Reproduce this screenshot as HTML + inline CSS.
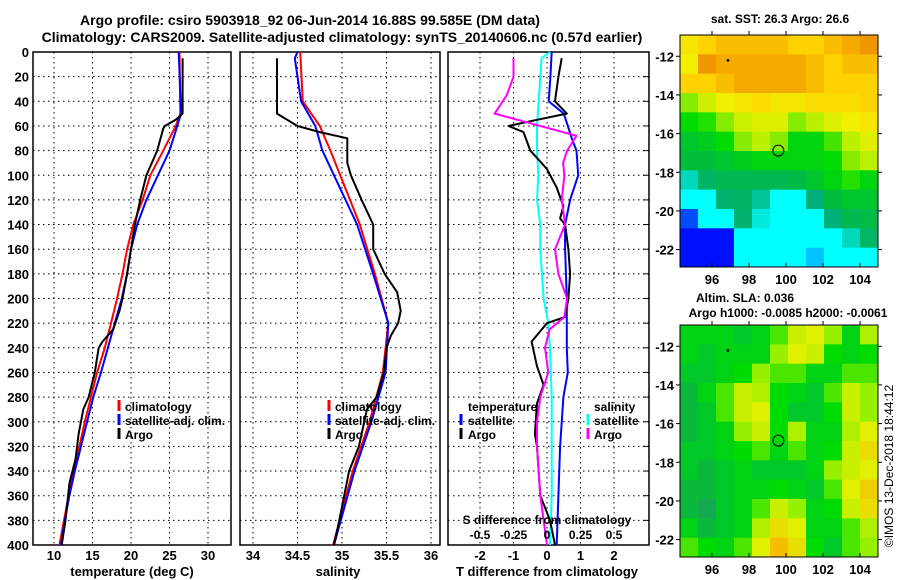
<!DOCTYPE html>
<html><head><meta charset="utf-8"><style>
html,body{margin:0;padding:0;background:#fff;}
svg{display:block;font-family:"Liberation Sans",sans-serif;font-weight:bold;}
</style></head><body>
<svg id="fig" width="900" height="580" viewBox="0 0 900 580" xmlns="http://www.w3.org/2000/svg">
<text x="310" y="25" font-size="14" text-anchor="middle">Argo profile: csiro 5903918_92 06-Jun-2014 16.88S 99.585E (DM data)</text>
<text x="342" y="42" font-size="14" text-anchor="middle">Climatology: CARS2009. Satellite-adjusted climatology: synTS_20140606.nc (0.57d earlier)</text>
<g id="g"></g>
<text x="780" y="23" font-size="12" text-anchor="middle">sat. SST: 26.3 Argo: 26.6</text>
<text x="745" y="302" font-size="12" text-anchor="middle">Altim. SLA: 0.036</text>
<text x="788" y="317" font-size="12" text-anchor="middle">Argo h1000: -0.0085 h2000: -0.0061</text>
<text transform="translate(893,466) rotate(-90)" font-size="12" font-weight="normal" text-anchor="middle">©IMOS 13-Dec-2018 18:44:12</text>
</svg>
<script>
// ---- data ----
const depthTicks=[0,20,40,60,80,100,120,140,160,180,200,220,240,260,280,300,320,340,360,380,400];
const tTicks=[10,15,20,25,30];
const sTicks=[34,34.5,35,35.5,36];
const dTTicks=[-2,-1,0,1,2];
const dSTicks=[-0.5,-0.25,0,0.25,0.5];
const dSTickLabels=["-0.5","-0.25","0","0.25","0.5"];
const climTdepth=[0,50,60,80,100,120,140,160,180,200,220,240,260,280,300,320,340,360,380,400];
const climT=[26.3,26.4,25.8,24.2,22.5,21.5,20.3,19.5,18.9,18.2,17.4,16.6,15.6,14.8,14.0,13.3,12.6,11.9,11.3,10.7];
const satTdepth=[0,50,60,70,80,100,120,140,160,180,200,220,240,260,280,300,320,340,360,380,400];
const satT=[26.2,26.5,26.0,25.5,25.0,23.5,22.0,20.8,20.0,19.5,18.8,17.9,17.0,16.1,15.1,14.3,13.5,12.7,12.0,11.4,10.9];
const argoTdepth=[5,50,55,60,62,80,100,120,140,160,180,200,210,225,235,240,260,280,290,310,330,350,380,400];
const argoT=[26.7,26.7,25.8,24.4,24.2,23.4,22.0,21.2,20.5,20.0,19.5,18.9,18.5,17.7,16.3,15.8,15.3,14.5,13.8,13.2,12.8,12.0,11.5,11.0];
const climSdepth=[0,40,60,80,100,140,180,220,260,300,340,400];
const climS=[34.53,34.56,34.75,34.87,34.98,35.2,35.37,35.52,35.46,35.31,35.12,34.9];
const satSdepth=[0,5,40,60,80,100,140,180,220,260,300,340,400];
const satS=[34.5,34.47,34.54,34.7,34.78,34.91,35.17,35.35,35.52,35.49,35.33,35.14,34.91];
const argoSdepth=[5,50,60,65,70,90,100,120,140,160,180,195,210,220,230,240,260,280,290,320,340,380,400];
const argoS=[34.27,34.27,34.5,34.75,35.06,35.06,35.1,35.22,35.35,35.35,35.48,35.62,35.66,35.63,35.55,35.5,35.47,35.39,35.28,35.19,35.08,34.97,34.91];
const dTsatDepth=[0,20,40,50,70,80,100,120,140,160,200,240,260,280,320,360,400];
const dTsat=[0.14,0.1,0.05,0.5,0.74,0.88,0.93,0.69,0.54,0.54,0.59,0.59,0.62,0.49,0.39,0.34,0.29];
const dTargoDepth=[5,20,40,50,55,60,65,80,95,110,125,135,140,160,180,200,215,220,235,255,270,285,310,320,360,380,400];
const dTargo=[0.44,0.34,0.24,0.59,-0.3,-1.15,-0.7,-0.5,0,0.29,0.49,0.39,0.54,0.64,0.69,0.64,0.54,0,-0.46,-0.3,-0.1,-0.3,-0.36,-0.3,-0.2,0.09,0.24];
const dSsatDepth=[0,5,20,60,80,100,120,140,160,200,220,240,280,320,360,400];
const dSsat=[0.022,-0.04,-0.05,-0.075,-0.075,-0.065,-0.075,-0.05,-0.05,-0.025,0.01,0.022,0.035,0.035,0.035,0.022];
const dSargoDepth=[5,20,35,50,55,68,80,90,100,120,140,160,180,200,215,225,240,260,280,300,320,360,400];
const dSargo=[-0.25,-0.25,-0.3,-0.39,-0.22,0.22,0.15,0.12,0.13,0.11,0.135,0.06,0.085,0.15,0.13,0.02,-0.015,0.01,-0.05,-0.075,-0.075,-0.05,0.0];
const lonTicks=[96,98,100,102,104];
const latTicks=[-12,-14,-16,-18,-20,-22];
const sstGrid=[
[26.6,26.8,26.9,26.9,26.9,26.9,26.8,26.8,26.9,27.0,27.1],
[26.5,27.1,27.0,27.0,27.0,27.0,27.0,26.9,26.8,26.9,26.9],
[26.8,26.8,26.9,27.0,27.0,27.0,27.0,26.9,26.8,26.8,26.8],
[26.0,26.3,26.5,26.6,26.7,26.6,26.6,26.7,26.7,26.7,26.8],
[25.6,25.7,26.0,26.3,26.4,26.4,26.0,26.2,26.4,26.5,26.6],
[25.3,25.4,25.6,26.0,26.2,26.0,25.5,25.5,25.8,26.2,26.4],
[25.2,25.2,25.3,25.4,25.5,25.5,25.5,25.5,25.6,26.0,26.2],
[24.4,24.8,25.0,25.0,25.0,25.0,25.1,25.3,25.5,25.7,25.5],
[24.0,24.2,24.7,24.8,24.5,24.1,24.1,24.6,25.2,25.3,25.3],
[23.4,24.0,24.1,24.7,24.3,24.0,24.0,24.1,24.6,25.0,25.1],
[23.2,23.2,23.3,24.0,24.0,24.0,24.0,24.0,24.1,24.4,24.8],
[23.2,23.2,23.3,24.0,24.0,24.0,24.0,23.6,24.0,24.0,24.2]];
const slaGrid=[
[0,0,0,-0.01,0,0.02,0.05,0.06,0.03,0,0.04],
[0,-0.01,0,0,0,0.03,0.06,0.05,0.01,0,0.01],
[-0.01,-0.01,0,0.01,0.03,0.02,0.02,0,0,0.02,0.02],
[-0.02,0,0.02,0.05,0.04,0.01,0,-0.01,0.02,0.05,0.03],
[-0.02,-0.01,0.02,0.05,0.06,0.01,-0.01,-0.01,0.01,0.05,0.03],
[-0.02,-0.01,0,0.03,0.05,0.01,0.04,0,0,0.04,0.06],
[-0.01,-0.01,0,0.01,0.02,0,0.02,0,0.01,0.05,0.07],
[-0.01,-0.02,-0.01,0,-0.01,-0.01,-0.01,0,0.03,0.05,0.06],
[-0.02,-0.02,-0.01,0,0,0.01,0,-0.01,0.02,0.06,0.08],
[-0.02,-0.03,-0.01,0,0.02,0.05,0.03,0,0.01,0.05,0.07],
[0,-0.02,-0.01,0,0.04,0.07,0.06,0,0,0.02,0.04],
[0.02,0.01,0,0.02,0.06,0.09,0.07,0.01,-0.01,0.02,0.03]];
const argoLon=99.585, argoLat=-16.88;

// ---- drawing ----
const NS="http://www.w3.org/2000/svg";
const G=document.getElementById('g');
function mk(tag,attrs,parent){const e=document.createElementNS(NS,tag);for(const k in attrs)e.setAttribute(k,attrs[k]);(parent||G).appendChild(e);return e;}
const Y0=52,Y1=545;
function yD(d){return Y0+(d/400)*(Y1-Y0);}
function lin(d0,d1,r0,r1){return v=>r0+(v-d0)/(d1-d0)*(r1-r0);}
const xT=lin(10,30,54,208);
const xS=lin(34,36,253,431);
const xDT=lin(0,1,547,580.5);
const xDS=lin(0,0.25,547,580.5);

function panel(x0,x1,name,xs,xticks,xlabels,labelY){
  for(const d of depthTicks){ if(d===0||d===400)continue;
    const l=mk('line',{x1:x0,x2:x1,y1:yD(d),y2:yD(d),stroke:'#000','stroke-width':1,'stroke-dasharray':'1.5,3.5'});
    }
  xticks.forEach((t,i)=>{const x=xs(t);
    const l=mk('line',{x1:x,x2:x,y1:Y0,y2:Y1,stroke:'#000','stroke-width':1,'stroke-dasharray':'1.5,3.5'});
    
    if(xlabels){const tx=mk('text',{x:x,y:labelY,'font-size':13,'text-anchor':'middle'});tx.textContent=xlabels[i];
    }
  });
  const r=mk('rect',{x:x0,y:Y0,width:x1-x0,height:Y1-Y0,fill:'none',stroke:'#000','stroke-width':1.5});
  
}
function series(depths,vals,xs,color,name,w){
  const pts=depths.map((d,i)=>xs(vals[i]).toFixed(1)+','+yD(d).toFixed(1)).join(' ');
  const p=mk('polyline',{points:pts,fill:'none',stroke:color,'stroke-width':w||2,'stroke-linejoin':'round'});
  
}
function text(x,y,s,name,size,anchor){const t=mk('text',{x:x,y:y,'font-size':size||12,'text-anchor':anchor||'start'});t.textContent=s;
  return t;}
function legMark(x,y,color,name){const l=mk('line',{x1:x,x2:x,y1:y-10,y2:y+1,stroke:color,'stroke-width':3});
  }

// panel 1 temperature
panel(33,231,'temperature-panel',xT,tTicks,tTicks.map(String),560);
depthTicks.forEach(d=>text(29,yD(d)+5,String(d),'depth-tick-label',13,'end'));
series(climTdepth,climT,xT,'#ff0000','climatology-temperature-line');
series(satTdepth,satT,xT,'#0000ff','satellite-temperature-line');
series(argoTdepth,argoT,xT,'#000','argo-temperature-line');
text(132,576,'temperature (deg C)','temperature-axis-title',13,'middle');
legMark(119,410,'#ff0000','legend-climatology-marker');text(125,411,'climatology','legend-climatology',12);
legMark(119,424,'#0000ff','legend-satellite-marker');text(125,425,'satellite-adj. clim.','legend-satellite',12);
legMark(119,438,'#000','legend-argo-marker');text(125,439,'Argo','legend-argo',12);

// panel 2 salinity
panel(240,440,'salinity-panel',xS,sTicks,sTicks.map(String),560);
series(climSdepth,climS,xS,'#ff0000','climatology-salinity-line');
series(satSdepth,satS,xS,'#0000ff','satellite-salinity-line');
series(argoSdepth,argoS,xS,'#000','argo-salinity-line');
text(338,576,'salinity','salinity-axis-title',13,'middle');
legMark(329,410,'#ff0000','legend2-climatology-marker');text(335,411,'climatology','legend2-climatology',12);
legMark(329,424,'#0000ff','legend2-satellite-marker');text(335,425,'satellite-adj. clim.','legend2-satellite',12);
legMark(329,438,'#000','legend2-argo-marker');text(335,439,'Argo','legend2-argo',12);

// panel 3 differences
panel(448,649,'difference-panel',xDT,dTTicks,dTTicks.map(String),560);
depthTicks.forEach(d=>{const l=mk('line',{x1:643,x2:649,y1:yD(d),y2:yD(d),stroke:'#000','stroke-width':1});
  });
series(dTsatDepth,dTsat,xDT,'#0000ff','satellite-temperature-diff-line');
series(dSsatDepth,dSsat,xDS,'#00ffff','satellite-salinity-diff-line');
series(dTargoDepth,dTargo,xDT,'#000','argo-temperature-diff-line');
series(dSargoDepth,dSargo,xDS,'#ff00ff','argo-salinity-diff-line');
text(547,576,'T difference from climatology','t-diff-axis-title',13,'middle');
text(547,524,'S difference from climatology','s-diff-axis-title',12,'middle');
dSTicks.forEach((t,i)=>text(xDS(t),539,dSTickLabels[i],'s-diff-tick-label',12,'middle'));
text(468,411,'temperature','legend3-temperature-heading',12);
legMark(461,424,'#0000ff','legend3-t-satellite-marker');text(468,425,'satellite','legend3-t-satellite',12);
legMark(461,438,'#000','legend3-t-argo-marker');text(468,439,'Argo','legend3-t-argo',12);
text(594,411,'salinity','legend3-salinity-heading',12);
legMark(588,424,'#00ffff','legend3-s-satellite-marker');text(594,425,'satellite','legend3-s-satellite',12);
legMark(588,438,'#ff00ff','legend3-s-argo-marker');text(594,439,'Argo','legend3-s-argo',12);

// colour maps
function interp(stops,v){
  if(v<=stops[0][0])return stops[0][1];
  for(let i=1;i<stops.length;i++){if(v<=stops[i][0]){const a=stops[i-1],b=stops[i],f=(v-a[0])/(b[0]-a[0]);
    return 'rgb('+a[1].map((c,j)=>Math.round(c+(b[1][j]-c)*f)).join(',')+')';}}
  return stops[stops.length-1][1];
}
function wrapRGB(stops){return stops.map(s=>[s[0],s[1]]);}
const sstStops=[[23.3,[0,16,255]],[23.7,[0,255,255]],[24.2,[0,255,255]],[24.6,[0,176,120]],[25.2,[0,190,60]],[25.6,[0,220,0]],[26.1,[170,240,0]],[26.5,[240,240,0]],[26.8,[255,210,0]],[27.1,[240,150,0]]];
const slaStops=[[-0.03,[20,170,80]],[-0.01,[0,200,40]],[0.01,[0,220,0]],[0.03,[150,240,0]],[0.06,[225,240,0]],[0.09,[245,190,0]]];
function cssC(stops,v){const c=interp(stops,v);return Array.isArray(c)?'rgb('+c.join(',')+')':c;}

function map(top,grid,stops,name){
  const X0=680,X1=878,H=232;
  const lonX=lin(94.27,104.97,X0,X1), latY=lin(-10.9,-22.9,top,top+H);
  const rows=grid.length, cols=grid[0].length, cw=(X1-X0)/cols, ch=H/rows;
  grid.forEach((row,r)=>row.forEach((v,c)=>{
    const e=mk('rect',{x:(X0+c*cw).toFixed(2),y:(top+r*ch).toFixed(2),width:(cw+0.5).toFixed(2),height:(ch+0.5).toFixed(2),fill:cssC(stops,v)});
    }));
  const fr=mk('rect',{x:X0,y:top,width:X1-X0,height:H,fill:'none',stroke:'#000','stroke-width':1});
  
  lonTicks.forEach(l=>{const x=lonX(l);
    mk('line',{x1:x,x2:x,y1:top+H,y2:top+H-4,stroke:'#000'});mk('line',{x1:x,x2:x,y1:top,y2:top-4,stroke:'#000'});
    text(x,top+H+17,String(l),name+'-lon-label',13,'middle');});
  latTicks.forEach(l=>{const y=latY(l);
    mk('line',{x1:X0,x2:X0-4,y1:y,y2:y,stroke:'#000'});mk('line',{x1:X1,x2:X1+4,y1:y,y2:y,stroke:'#000'});
    text(674,y+5,String(l),name+'-lat-label',13,'end');});
  const c=mk('circle',{cx:lonX(argoLon),cy:latY(argoLat),r:5.5,fill:'none',stroke:'#000','stroke-width':1});
  
  const d=mk('rect',{x:lonX(96.85)-1,y:latY(-12.2)-1,width:2.5,height:2.5,fill:'#000'});
  
}
map(35,sstGrid,sstStops,'sst-map');
map(325,slaGrid,slaStops,'sla-map');
</script>
</body></html>
